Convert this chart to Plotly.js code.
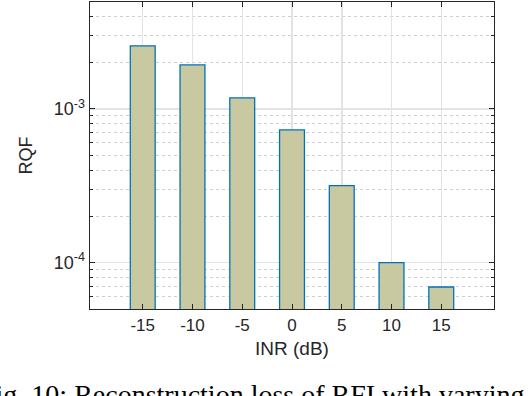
<!DOCTYPE html>
<html>
<head>
<meta charset="utf-8">
<script src="https://cdn.plot.ly/plotly-3.0.1.min.js"></script>
<style>
  body { margin: 0; background: #fff; }
  #chart { width: 528px; height: 396px; }
</style>
</head>
<body>
<div id="chart"></div>
<script>
// values
const inr = [-15, -10, -5, 0, 5, 10, 15];
const inrLabels = ['-15', '-10', '-5', '0', '5', '10', '15'];
const rqf = [2.57e-3, 1.93e-3, 1.18e-3, 7.3e-4, 3.17e-4, 1.0e-4, 6.95e-5];
const yTickVals = [1e-4, 1e-3];
const yTickText = ['10<sup>-4</sup>', '10<sup>-3</sup>'];
const caption = 'Fig. 10: Reconstruction loss of RFI with varying INR.';

const axisColor = '#262626';

Plotly.newPlot('chart', [{
    x: inr,
    y: rqf,
    type: 'bar',
    width: 2.5,
    marker: {
        color: '#c9c9a1',
        line: { color: '#0072bd', width: 1.3 }
    },
    hoverinfo: 'x+y'
}], {
    width: 528,
    height: 396,
    margin: { l: 90, r: 34, t: 2, b: 87 },
    paper_bgcolor: '#fff',
    plot_bgcolor: '#fff',
    showlegend: false,
    font: { family: 'Liberation Sans, Arial, sans-serif', color: axisColor, size: 17 },
    xaxis: {
        range: [-20.3, 20.3],
        tickvals: inr,
        ticktext: inrLabels,
        ticks: 'inside',
        ticklen: 5,
        tickcolor: axisColor,
        showline: true,
        linecolor: axisColor,
        linewidth: 1.4,
        mirror: 'ticks',
        showgrid: true,
        gridcolor: '#e3e3e3',
        gridwidth: 1.5,
        zeroline: false,
        tickfont: { size: 17 },
        title: { text: 'INR (dB)', font: { size: 19 }, standoff: 8 }
    },
    yaxis: {
        type: 'log',
        range: [Math.log10(5e-5), Math.log10(4.95e-3)],
        tickvals: yTickVals,
        ticktext: yTickText,
        ticks: 'inside',
        ticklen: 5,
        tickcolor: axisColor,
        showline: true,
        linecolor: axisColor,
        linewidth: 1.4,
        mirror: 'ticks',
        showgrid: true,
        gridcolor: '#e3e3e3',
        gridwidth: 1.5,
        zeroline: false,
        tickfont: { size: 18 },
        minor: {
            dtick: 'D1',
            ticks: 'inside',
            ticklen: 3,
            tickcolor: axisColor,
            showgrid: true,
            gridcolor: '#cfcfcf',
            griddash: 'dot',
            gridwidth: 1
        },
        title: { text: 'RQF', font: { size: 18 }, standoff: 16 }
    },
    annotations: [{
        text: caption,
        xref: 'paper', yref: 'paper',
        x: -0.278, y: -0.222,
        xanchor: 'left', yanchor: 'top',
        showarrow: false,
        font: { family: 'Liberation Serif, Times New Roman, serif', size: 28, color: '#000' }
    }]
}, { displayModeBar: false, staticPlot: true });
</script>
</body>
</html>
